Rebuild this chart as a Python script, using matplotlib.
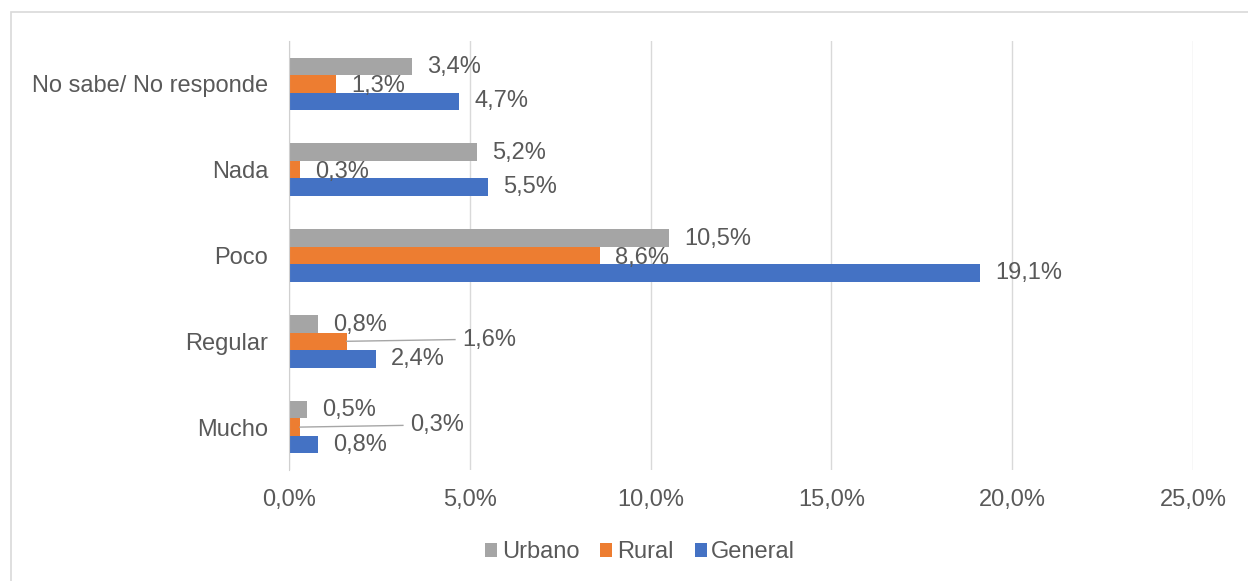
import matplotlib.pyplot as plt
import numpy as np
from matplotlib.patches import Rectangle

categories = ["Mucho", "Regular", "Poco", "Nada", "No sabe/ No responde"]
urbano = [0.5, 0.8, 10.5, 5.2, 3.4]
rural = [0.3, 1.6, 8.6, 0.3, 1.3]
general = [0.8, 2.4, 19.1, 5.5, 4.7]
xticks = [0, 5, 10, 15, 20, 25]

# Excel-like palette
c_urb, c_rur, c_gen = "#A5A5A5", "#ED7D31", "#4472C4"
txt = "#595959"
fs = 17

plt.rcParams["font.family"] = ["Liberation Sans", "DejaVu Sans"]

fig = plt.figure(figsize=(12.48, 5.81), dpi=100)
ax = fig.add_axes([289 / 1248, 1 - 470 / 581, (1193 - 289) / 1248, 429 / 581])

# chart frame
fig.add_artist(Rectangle((11 / 1248, -0.01), 1.1, 1 - 12 / 581 + 0.01,
                         transform=fig.transFigure, fill=False,
                         edgecolor="#d9d9d9", linewidth=1.2))

y = np.arange(len(categories))
h = 0.205
ax.barh(y + h, urbano, h, color=c_urb, label="Urbano")
ax.barh(y, rural, h, color=c_rur, label="Rural")
ax.barh(y - h, general, h, color=c_gen, label="General")

def fmt(v):
    return f"{v:.1f}%".replace(".", ",")

off = 0.42
for i in range(len(categories)):
    ax.text(urbano[i] + off, y[i] + h - 0.01, fmt(urbano[i]), va="center",
            fontsize=fs, color=txt)
    ax.text(general[i] + off, y[i] - h, fmt(general[i]), va="center",
            fontsize=fs, color=txt)
    if categories[i] in ("Regular", "Mucho"):
        lx = 4.59 if categories[i] == "Regular" else 3.15
        ax.plot([rural[i], lx], [y[i], y[i] + 0.02], color="#a6a6a6", lw=1)
        ax.text(lx + 0.2, y[i] + 0.02, fmt(rural[i]), va="center",
                fontsize=fs, color=txt)
    else:
        ax.text(rural[i] + off, y[i] - 0.03, fmt(rural[i]), va="center",
                fontsize=fs, color=txt)

ax.set_xlim(0, 25)
ax.set_ylim(-0.5, 4.5)
ax.set_xticks(xticks)
ax.set_xticklabels([fmt(v) for v in xticks], fontsize=fs, color=txt)
ax.set_yticks(y)
ax.set_yticklabels(categories, fontsize=fs, color=txt)
ax.tick_params(length=0)
ax.tick_params(axis="y", pad=15)
ax.tick_params(axis="x", pad=14)
ax.grid(axis="x", color="#d9d9d9", lw=1)
ax.set_axisbelow(True)
for s in ["top", "right", "bottom"]:
    ax.spines[s].set_visible(False)
ax.spines["left"].set_color("#d0d0d0")

fig.legend(loc="lower center", bbox_to_anchor=(0.513, -0.006), ncol=3, frameon=False,
           fontsize=fs, handlelength=0.5, handleheight=0.5, handletextpad=0.2,
           columnspacing=0.9, labelcolor=txt)

fig.savefig("out.png", dpi=100)
